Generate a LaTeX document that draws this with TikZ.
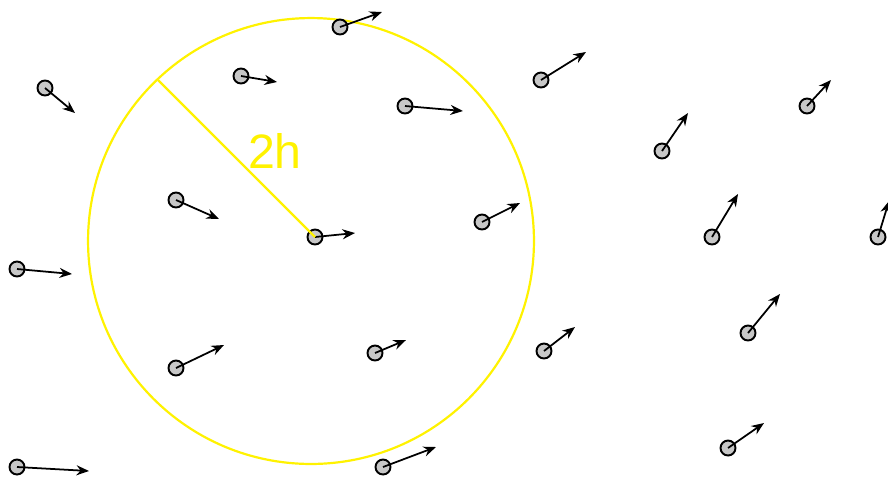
\documentclass[tikz,border=0pt]{standalone}
\usepackage{fontspec}
\setmainfont{Liberation Sans}
\usetikzlibrary{arrows.meta}
\tikzset{
  particle/.style={circle,draw=black,fill=black!22,line width=1.1pt,minimum size=0.3cm,inner sep=0pt},
  vel/.style={-{Stealth[length=2.5mm,width=2mm]},line width=1pt},
  kernel/.style={yellow,line width=1.25pt}
}
\begin{document}
\begin{tikzpicture}[x=0.02cm,y=-0.02cm]
  \useasboundingbox (0,0) rectangle (888,478);
  % Smoothing kernel support of radius 2h
  \coordinate (c) at (311,241);
  \draw[kernel] (c) circle (4.46cm);
  % Particles and their velocities
  \foreach \i/\x/\y/\u/\v in {1/45/88/75/113, 2/241/76/277/82, 3/340/27/382/12,
      4/405/106/463/111, 5/541/80/586/52, 6/662/151/688/113, 7/807/106/831/80,
      8/176/200/219/219, 9/315/237/355/233, 10/482/222/520/203, 11/712/237/738/194,
      12/878/237/889/201, 13/17/269/72/274, 14/748/333/780/294, 15/176/368/224/345,
      16/375/353/406/340, 17/544/351/575/327, 18/17/467/89/471, 19/383/467/436/447,
      20/728/448/764/423}{
    \node[particle] (p\i) at (\x,\y) {};
    \coordinate (v\i) at (\u,\v);
    \draw[vel] (p\i.center) -- (v\i);
  }
  % Radius
  \coordinate (e) at (158,80);
  \draw[kernel] (e) -- (p9.center);
  \node[yellow,font=\fontsize{27.5}{30}\selectfont] (lbl) at (275,151) {2h};
\end{tikzpicture}
\end{document}
